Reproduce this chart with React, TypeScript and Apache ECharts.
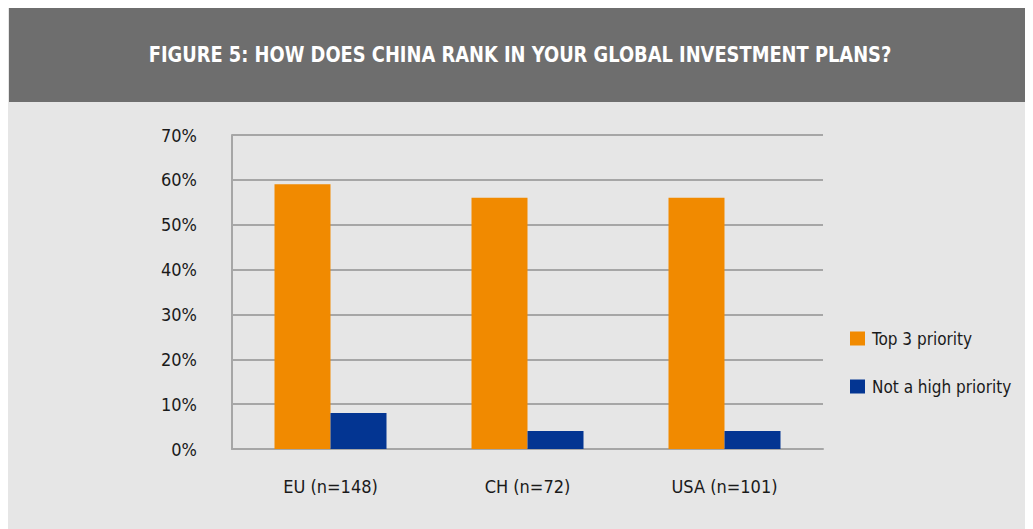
import React, { useEffect, useRef } from "react";
import * as echarts from "echarts";

const titleText = "FIGURE 5: HOW DOES CHINA RANK IN YOUR GLOBAL INVESTMENT PLANS?";
const categories = ["EU (n=148)", "CH (n=72)", "USA (n=101)"];
const seriesNames = ["Top 3 priority", "Not a high priority"];
const topPriority = [59, 56, 56];
const notHighPriority = [8, 4, 4];
const yTicks = { min: 0, max: 70, interval: 10 };

const FONT = "'DejaVu Sans Condensed', 'Liberation Sans Narrow', 'Liberation Sans', sans-serif";

export default function App() {
  const ref = useRef<HTMLDivElement>(null);
  useEffect(() => {
    if (!ref.current) return;
    const chart = echarts.init(ref.current, undefined, { renderer: "svg" });
    chart.setOption({
      animation: false,
      backgroundColor: "#e6e6e6",
      textStyle: { fontFamily: FONT },
      graphic: [
        {
          type: "rect",
          shape: { x: 1, y: 0, width: 1030, height: 94 },
          style: { fill: "#6e6e6e" },
          z: 0,
        },
        {
          type: "text",
          x: 512,
          y: 47,
          scaleX: 0.945,
          style: {
            text: titleText,
            fill: "#ffffff",
            font: `bold 21px ${FONT}`,
            textAlign: "center",
            textVerticalAlign: "middle",
          },
          z: 1,
        },
      ],
      grid: { left: 224, top: 127, right: 210, bottom: 80 },
      legend: {
        orient: "vertical",
        left: 837,
        top: 317,
        itemWidth: 15,
        itemHeight: 14,
        itemGap: 31,
        icon: "rect",
        data: seriesNames,
        textStyle: { fontSize: 17, color: "#1a1a1a", fontFamily: FONT, padding: [0, 0, 0, 2] },
      },
      xAxis: {
        type: "category",
        data: categories,
        axisTick: { show: false },
        axisLine: { lineStyle: { color: "#a6a6a6", width: 2 } },
        axisLabel: { fontSize: 18, color: "#1a1a1a", margin: 28, fontFamily: FONT },
      },
      yAxis: {
        type: "value",
        min: yTicks.min,
        max: yTicks.max,
        interval: yTicks.interval,
        axisLine: { show: true, lineStyle: { color: "#a6a6a6", width: 2 } },
        axisTick: { show: false },
        splitLine: { lineStyle: { color: "#a6a6a6", width: 2 } },
        axisLabel: { formatter: "{value}%", fontSize: 18, color: "#1a1a1a", margin: 35, fontFamily: FONT },
      },
      series: [
        {
          name: seriesNames[0],
          type: "bar",
          data: topPriority,
          barWidth: 56,
          barGap: "0%",
          itemStyle: { color: "#f18a00" },
        },
        {
          name: seriesNames[1],
          type: "bar",
          data: notHighPriority,
          barWidth: 56,
          itemStyle: { color: "#033592" },
        },
      ],
    });
    return () => chart.dispose();
  }, []);
  return <div ref={ref} style={{ width: 1025, height: 521 }} />;
}
